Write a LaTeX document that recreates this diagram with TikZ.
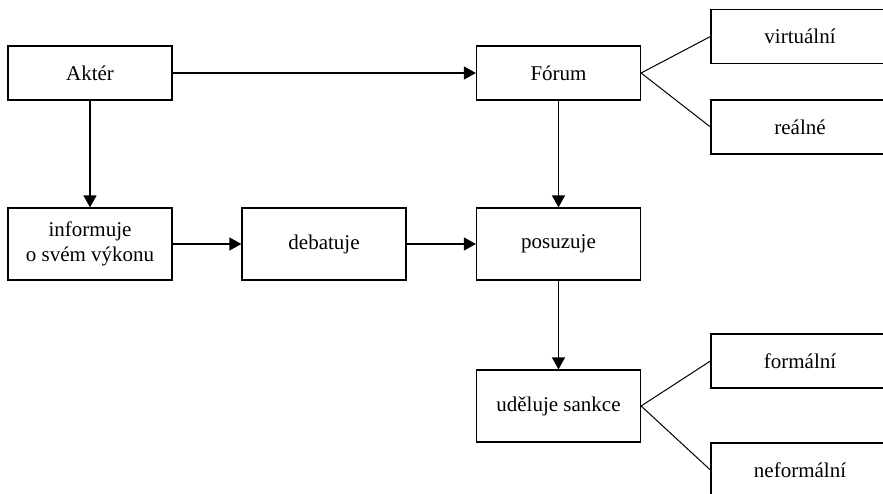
\documentclass[tikz,border=0pt]{standalone}
\usepackage{fontspec}
\setmainfont{Liberation Serif}
\usetikzlibrary{arrows.meta}
\begin{document}
\begin{tikzpicture}[x=1pt,y=-1pt,
  box/.style={draw, line width=1.2pt, inner sep=0pt, align=center,
    font=\fontsize{21}{25}\selectfont},
  mainbox/.style={box, minimum width=164pt, minimum height=54pt},
  tallbox/.style={box, minimum width=164pt, minimum height=72pt},
  sidebox/.style={box, minimum width=178pt, minimum height=54pt},
  flow/.style={line width=1.2pt, -{Triangle[length=12pt,width=13pt]}},
  branch/.style={line width=1pt}]
\useasboundingbox (0,0) rectangle (883,493);
\clip (0,0) rectangle (883,493);

% top row
\node[mainbox] (aktor) at (90,73) {Aktér};
\node[mainbox] (forum) at (558.5,73) {Fórum};
\node[sidebox] (virt) at (800,36.5) {virtuální};
\node[sidebox] (real) at (800,127) {reálné};

% middle row
\node[tallbox] (info) at (90,244) {informuje\\o svém výkonu};
\node[tallbox] (deb) at (324,244) {debatuje};
\node[tallbox] (pos) at (558.5,244) {posuzuje};

% bottom part
\node[tallbox] (sank) at (558.5,406) {uděluje sankce};
\node[sidebox] (form) at (800,361) {formální};
\node[sidebox] (neform) at (800,470) {neformální};

% flow arrows
\draw[flow] (aktor) -- (forum);
\draw[flow] (aktor) -- (info);
\draw[flow] (info) -- (deb);
\draw[flow] (deb) -- (pos);
\draw[flow] (forum) -- (pos);
\draw[flow] (pos) -- (sank);

% branches
\draw[branch] (forum.east) -- (virt.west);
\draw[branch] (forum.east) -- (real.west);
\draw[branch] (sank.east) -- (form.west);
\draw[branch] (sank.east) -- (neform.west);
\end{tikzpicture}
\end{document}
